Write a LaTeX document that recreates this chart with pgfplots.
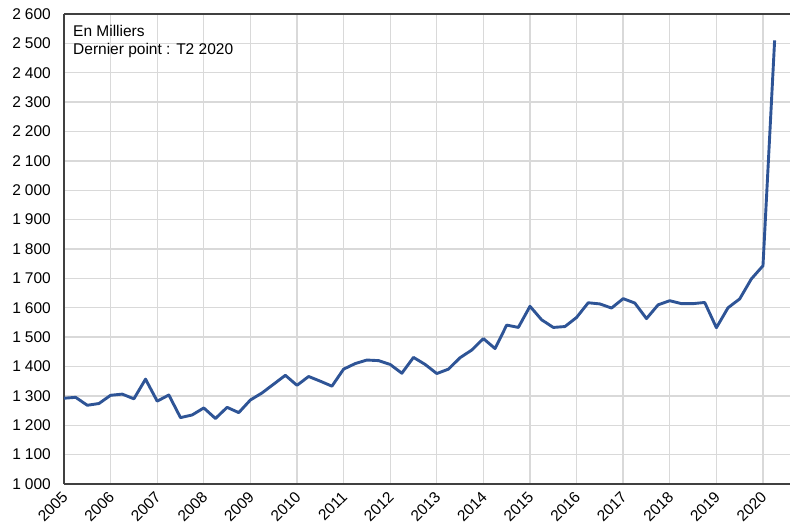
\documentclass[border=0pt]{standalone}
\usepackage{pgfplots}
\pgfplotsset{compat=1.18}
\usepackage{fontspec}
\setmainfont{Liberation Sans}
\usetikzlibrary{calc}
\definecolor{serie}{RGB}{46,84,150}
\definecolor{grille}{RGB}{217,217,217}
\definecolor{axe}{RGB}{64,64,64}
\begin{document}
\begin{tikzpicture}
\begin{axis}[
  scale only axis,
  width=726bp, height=470bp,
  xmin=2005, xmax=2020.58,
  ymin=1000, ymax=2600,
  xtick={2005,...,2020},
  ytick={1000,1100,...,2600},
  axis x line=box, axis y line=left,
  axis line style={-, line width=1.2bp, draw=axe},
  major tick length=0pt,
  grid=major,
  major grid style={draw=grille, line width=1.3bp},
  tick label style={font=\fontsize{15.5bp}{18bp}\selectfont, text=black},
  /pgf/number format/assume math mode=true,
  y tick label style={/pgf/number format/1000 sep={\kern0.25em}, inner sep=0pt, xshift=-13bp},
  x tick label style={/pgf/number format/1000 sep={}, xshift=-3bp, yshift=-5bp, rotate=45, anchor=north east, inner sep=1bp},
  clip=false,
]
\addplot[serie, line width=2.9bp, line join=round] coordinates {
(2005.00,1292) (2005.25,1295) (2005.50,1268) (2005.75,1274)
(2006.00,1302) (2006.25,1306) (2006.50,1290) (2006.75,1357)
(2007.00,1282) (2007.25,1303) (2007.50,1226) (2007.75,1235)
(2008.00,1259) (2008.25,1223) (2008.50,1261) (2008.75,1243)
(2009.00,1286) (2009.25,1310) (2009.50,1340) (2009.75,1370)
(2010.00,1336) (2010.25,1366) (2010.50,1350) (2010.75,1333)
(2011.00,1391) (2011.25,1410) (2011.50,1422) (2011.75,1420)
(2012.00,1407) (2012.25,1377) (2012.50,1431) (2012.75,1407)
(2013.00,1376) (2013.25,1391) (2013.50,1430) (2013.75,1456)
(2014.00,1495) (2014.25,1461) (2014.50,1541) (2014.75,1533)
(2015.00,1605) (2015.25,1559) (2015.50,1533) (2015.75,1536)
(2016.00,1567) (2016.25,1617) (2016.50,1613) (2016.75,1599)
(2017.00,1631) (2017.25,1616) (2017.50,1563) (2017.75,1610)
(2018.00,1624) (2018.25,1614) (2018.50,1614) (2018.75,1618)
(2019.00,1532) (2019.25,1600) (2019.50,1630) (2019.75,1698)
(2020.00,1743) (2020.25,2510)
};
\node[anchor=north west, align=left, inner sep=0pt, font=\fontsize{15.5bp}{18.3bp}\selectfont]
  at ($(rel axis cs:0,1)+(9bp,-11bp)$) {En Milliers\\Dernier point : T2 2020};
\end{axis}
\pgfresetboundingbox
\path ($(current axis.south west)+(-64bp,-43bp)$) rectangle ($(current axis.north east)+(0bp,14bp)$);
\end{tikzpicture}
\end{document}
